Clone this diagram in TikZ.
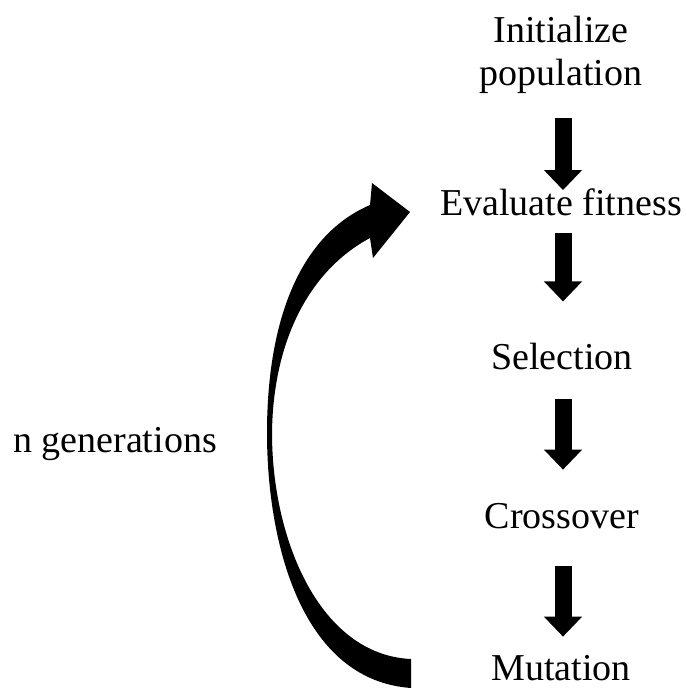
\documentclass[tikz,border=0pt]{standalone}
\usepackage{fontspec}
\setmainfont{Liberation Serif}
\usetikzlibrary{arrows.meta}
\begin{document}
\begin{tikzpicture}[x=1pt,y=-1pt,
  lbl/.style={inner sep=0pt, font=\fontsize{38}{43}\selectfont, text=black},
  blockarrow/.style={draw=black, line width=17pt, -{Triangle[width=37pt,length=20pt]}}]
\useasboundingbox (0,0) rectangle (686,688);
\node[lbl, align=center, anchor=north] (init) at (561,16) {Initialize\\population};
\node[lbl, anchor=base] (eval) at (561,215) {Evaluate fitness};
\node[lbl, anchor=base] (sel) at (562,369) {Selection};
\node[lbl, anchor=base] (cross) at (562,528) {Crossover};
\node[lbl, anchor=base] (mut) at (561,680) {Mutation};
\node[lbl, anchor=base] (gen) at (115,452) {n generations};
\draw[blockarrow, shorten <=24pt, shorten >=-2pt] (init.south -| 563,0) -- (eval.north -| 563,0);
\draw[blockarrow, shorten <=17pt, shorten >=41pt] (eval.south -| 563,0) -- (sel.north -| 563,0);
\draw[blockarrow, shorten <=29pt, shorten >=33pt] (sel.south -| 563,0) -- (cross.north -| 563,0);
\draw[blockarrow, shorten <=37pt, shorten >=18pt] (cross.south -| 563,0) -- (mut.north -| 563,0);
\fill[black] (411,688) .. controls (300,680) and (267,540) .. (267,433)
  .. controls (267,320) and (300,235) .. (370,205)
  -- (372,183) -- (410,212) -- (373,258) -- (370,238)
  .. controls (310,270) and (273,340) .. (272,433)
  .. controls (272,540) and (320,655) .. (411,659) -- cycle;
\end{tikzpicture}
\end{document}
